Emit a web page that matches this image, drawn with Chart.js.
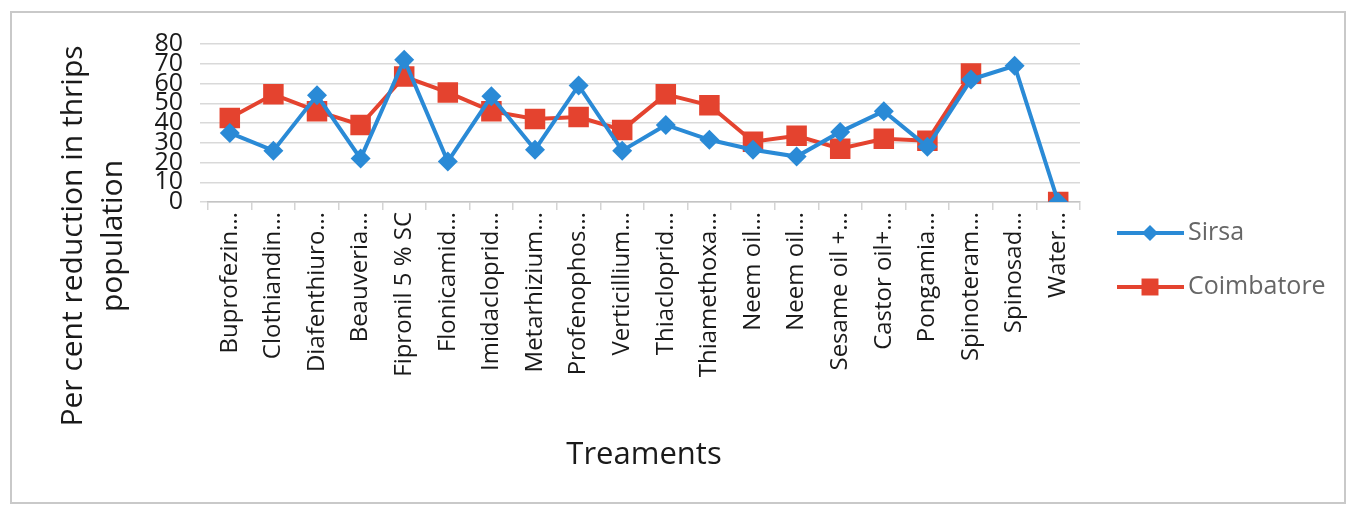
<!DOCTYPE html>
<html>
<head>
<meta charset="utf-8">
<script src="https://cdn.jsdelivr.net/npm/chart.js@4/dist/chart.umd.min.js"></script>
<style>
html,body{margin:0;padding:0;background:#fff;}
#wrap{width:1350px;height:506px;position:relative;}
</style>
</head>
<body>
<div id="wrap"><canvas id="c" width="1350" height="506"></canvas></div>
<script>
const categories = ["Buprofezin…","Clothiandin…","Diafenthiuro…","Beauveria…","Fipronil 5 % SC","Flonicamid…","Imidacloprid…","Metarhizium…","Profenophos…","Verticillium…","Thiacloprid…","Thiamethoxa…","Neem oil…","Neem oil…","Sesame oil +…","Castor oil+…","Pongamia…","Spinoteram…","Spinosad…","Water…"];
const sirsa = [35, 26, 54, 22, 72, 20.5, 53.5, 26.5, 59, 26, 39, 31.5, 26.5, 23, 35.5, 46, 28, 62, 69, 0];
const coimbatore = [42.5, 54.5, 46, 39, 63.5, 55.5, 46, 42, 43, 36.5, 54.5, 49, 30.5, 33.5, 27, 32, 31, 65, null, 0];
const yTicks = [0, 10, 20, 30, 40, 50, 60, 70, 80];
const seriesNames = ["Sirsa", "Coimbatore"];
const yTitleLines = ["Per cent reduction in thrips", "population"];
const xTitle = "Treaments";

const BLUE = '#2a8ad6';
const RED = '#e4432f';
const FONT = "'Open Sans', sans-serif";
Chart.defaults.font.family = FONT;

function drawMarker(ctx, style, x, y, r, color) {
  ctx.save();
  ctx.fillStyle = color;
  ctx.beginPath();
  if (style === 'rect') {
    const s = r * Math.SQRT1_2;
    ctx.rect(x - s, y - s, 2 * s, 2 * s);
  } else {
    ctx.moveTo(x, y - r); ctx.lineTo(x + r, y); ctx.lineTo(x, y + r); ctx.lineTo(x - r, y); ctx.closePath();
  }
  ctx.fill();
  ctx.restore();
}

const framePlugin = {
  id: 'frame',
  beforeDraw(chart) {
    const ctx = chart.ctx;
    ctx.save();
    ctx.fillStyle = '#fff';
    ctx.fillRect(0, 0, chart.width, chart.height);
    ctx.strokeStyle = '#c9c9c9';
    ctx.lineWidth = 2;
    ctx.strokeRect(11, 12, 1334, 491);
    ctx.restore();
  }
};

const extrasPlugin = {
  id: 'extras',
  afterDraw(chart) {
    const ctx = chart.ctx;
    ctx.save();
    // y axis title (two lines, rotated)
    ctx.fillStyle = '#1a1a1a';
    ctx.font = "30px " + FONT;
    ctx.textAlign = 'center';
    ctx.textBaseline = 'middle';
    const cx = [73, 113];
    yTitleLines.forEach((t, i) => {
      ctx.save();
      ctx.translate(cx[i], 236);
      ctx.rotate(-Math.PI / 2);
      ctx.fillText(t, 0, 0);
      ctx.restore();
    });
    // legend
    chart.data.datasets.forEach((ds, i) => {
      const y = 233 + i * 54;
      ctx.strokeStyle = ds.borderColor;
      ctx.lineWidth = 4;
      ctx.beginPath(); ctx.moveTo(1117, y); ctx.lineTo(1184, y); ctx.stroke();
      drawMarker(ctx, ds.pointStyle, 1150, y, ds.pointStyle === 'rect' ? 12 : 8, ds.borderColor);
      ctx.fillStyle = '#666';
      ctx.font = "25px " + FONT;
      ctx.textAlign = 'left';
      ctx.fillText(ds.label, 1188, y);
    });
    ctx.restore();
  }
};

new Chart(document.getElementById('c'), {
  type: 'line',
  data: {
    labels: categories,
    datasets: [
      { label: seriesNames[0], data: sirsa, borderColor: BLUE, backgroundColor: BLUE, borderWidth: 4,
        pointStyle: 'rectRot', pointRadius: 10, pointBorderWidth: 0, tension: 0 },
      { label: seriesNames[1], data: coimbatore, borderColor: RED, backgroundColor: RED, borderWidth: 4,
        pointStyle: 'rect', pointRadius: 14.5, pointBorderWidth: 0, tension: 0, spanGaps: false }
    ]
  },
  options: {
    responsive: false,
    animation: false,
    events: [],
    layout: { padding: { left: 0, top: 44, right: 270, bottom: 0 } },
    plugins: { legend: { display: false }, tooltip: { enabled: false } },
    scales: {
      x: {
        offset: true,
        afterFit(scale) { scale.height = 304; },
        grid: { offset: true, drawOnChartArea: false, drawTicks: true, tickLength: 8, color: '#d4d4d4', lineWidth: 1.5 },
        border: { display: true, color: '#c4c4c4', width: 1.5 },
        ticks: { autoSkip: false, minRotation: 90, maxRotation: 90, padding: 2, color: '#1a1a1a', font: { size: 24 } },
        title: { display: true, text: xTitle, color: '#1a1a1a', font: { size: 31 }, padding: { top: 0, bottom: 32 } }
      },
      y: {
        min: 0, max: 80,
        afterFit(scale) { scale.width = 208; },
        afterBuildTicks(scale) { scale.ticks = yTicks.map(v => ({ value: v })); },
        grid: { color: '#d9d9d9', lineWidth: 1.5, drawTicks: true, tickLength: 8 },
        border: { display: false },
        ticks: { autoSkip: false, padding: 17, color: '#1a1a1a', font: { size: 25, lineHeight: 1 } }
      }
    }
  },
  plugins: [framePlugin, extrasPlugin]
});
</script>
</body>
</html>
